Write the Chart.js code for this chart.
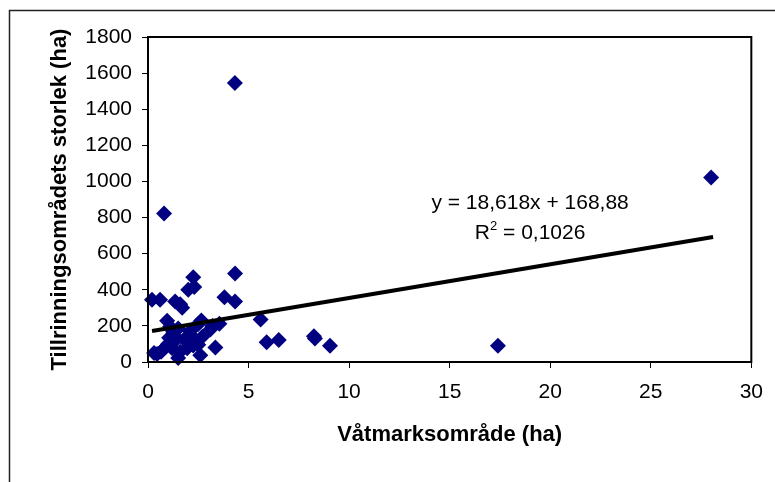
<!DOCTYPE html>
<html>
<head>
<meta charset="utf-8">
<script src="https://cdn.jsdelivr.net/npm/chart.js@4.4.1/dist/chart.umd.min.js"></script>
<style>
  html, body { margin: 0; padding: 0; background: #fff; }
  #wrap { width: 775px; height: 482px; position: relative; }
</style>
</head>
<body>
<div id="wrap"><canvas id="diagram"></canvas></div>
<script>
// Våtmarksområde (ha) mot tillrinningsområdets storlek (ha)
const vatmark = [4.32, 28.0, 0.8, 4.33, 2.25, 2.3, 2.0, 0.2, 0.6, 1.35, 1.6, 1.7, 3.8, 4.33,
  0.95, 1.1, 2.65, 5.6, 3.55, 3.2, 3.1, 2.5, 2.1, 1.5, 1.25, 1.05, 1.45, 1.8, 2.35, 2.7,
  2.5, 2.25, 1.95, 1.2, 0.85, 1.6, 0.65, 0.45, 1.5, 2.6, 3.35, 5.9, 6.5, 8.25, 8.3, 9.05,
  17.4, 1.0, 2.05, 0.3];
const tillrinning = [1545, 1022, 822, 490, 470, 415, 400, 345, 345, 335, 320, 300, 358, 335,
  228, 195, 230, 235, 212, 200, 180, 210, 170, 185, 168, 135, 130, 125, 125, 140,
  95, 92, 76, 76, 80, 57, 57, 44, 22, 38, 80, 110, 122, 142, 130, 90,
  90, 100, 108, 50];

// trendlinjens ändpunkter (avlästa)
const trendX = [0.2, 28.1];
const trendY = [172, 692];

const xTicks = [0, 5, 10, 15, 20, 25, 30];
const yTicks = [0, 200, 400, 600, 800, 1000, 1200, 1400, 1600, 1800];

const ekvation = 'y = 18,618x + 168,88';
const rKvadrat = '0,1026';

const punkter = vatmark.map((v, i) => ({ x: v, y: tillrinning[i] }));
const trend = trendX.map((v, i) => ({ x: v, y: trendY[i] }));

const typsnitt = 'Liberation Sans';

// ramar och ekvationstext
const ramPlugin = {
  id: 'ram',
  beforeDraw(chart) {
    const ctx = chart.ctx;
    ctx.save();
    ctx.strokeStyle = '#222';
    ctx.lineWidth = 1.5;
    ctx.beginPath();
    ctx.moveTo(9.5, 482);
    ctx.lineTo(9.5, 10.5);
    ctx.lineTo(775, 10.5);
    ctx.stroke();
    ctx.restore();
  },
  afterDraw(chart) {
    const ctx = chart.ctx;
    const a = chart.chartArea;
    const sx = chart.scales.x, sy = chart.scales.y;
    ctx.save();
    ctx.strokeStyle = '#000';
    ctx.lineWidth = 2;
    ctx.strokeRect(a.left, a.top, a.right - a.left, a.bottom - a.top);

    ctx.fillStyle = '#000';
    ctx.textBaseline = 'middle';
    ctx.textAlign = 'center';
    ctx.font = '21px "' + typsnitt + '"';
    const cx = sx.getPixelForValue(19);
    ctx.fillText(ekvation, cx, sy.getPixelForValue(880));

    // R² = ...
    const y2 = sy.getPixelForValue(715);
    const wR = ctx.measureText('R').width;
    const resten = ' = ' + rKvadrat;
    const wRest = ctx.measureText(resten).width;
    ctx.font = '13px "' + typsnitt + '"';
    const w2 = ctx.measureText('2').width;
    const total = wR + w2 + wRest;
    let x0 = cx - total / 2;
    ctx.textAlign = 'left';
    ctx.font = '21px "' + typsnitt + '"';
    ctx.fillText('R', x0, y2);
    ctx.font = '13px "' + typsnitt + '"';
    ctx.fillText('2', x0 + wR, y2 - 6);
    ctx.font = '21px "' + typsnitt + '"';
    ctx.fillText(resten, x0 + wR + w2, y2);
    ctx.restore();
  }
};

const diagram = new Chart(document.getElementById('diagram'), {
  type: 'scatter',
  data: {
    datasets: [
      {
        type: 'line',
        data: trend,
        borderColor: '#000',
        borderWidth: 4,
        pointRadius: 0,
        fill: false
      },
      {
        data: punkter,
        pointStyle: 'rectRot',
        pointRadius: 8,
        pointHoverRadius: 8,
        backgroundColor: '#000080',
        borderColor: '#000080',
        borderWidth: 0,
        clip: false
      }
    ]
  },
  options: {
    responsive: true,
    maintainAspectRatio: false,
    animation: false,
    layout: { padding: { left: 40, right: 16, top: 37, bottom: 0 } },
    plugins: {
      legend: { display: false },
      tooltip: { enabled: false }
    },
    scales: {
      x: {
        type: 'linear',
        min: 0,
        max: 30,
        afterBuildTicks: s => { s.ticks = xTicks.map(v => ({ value: v })); },
        afterFit: s => { s.height = 120; },
        grid: { drawOnChartArea: false, drawTicks: true, tickLength: 6, color: '#000' },
        border: { display: true, color: '#000', width: 2 },
        ticks: {
          color: '#000', padding: 12, maxRotation: 0,
          font: { family: typsnitt, size: 21 },
          callback: v => String(v)
        },
        title: {
          display: true,
          text: 'Våtmarksområde (ha)',
          color: '#000',
          padding: { top: 0, bottom: 34 },
          font: { family: typsnitt, size: 22, weight: 'bold' }
        }
      },
      y: {
        type: 'linear',
        min: 0,
        max: 1800,
        afterBuildTicks: s => { s.ticks = yTicks.map(v => ({ value: v })); },
        afterFit: s => { s.width = 108; },
        grid: { drawOnChartArea: false, drawTicks: true, tickLength: 6, color: '#000' },
        border: { display: true, color: '#000', width: 2 },
        ticks: {
          color: '#000', padding: 10,
          font: { family: typsnitt, size: 21 },
          callback: v => String(v)
        },
        title: {
          display: true,
          text: 'Tillrinningsområdets storlek (ha)',
          color: '#000',
          padding: { top: 7, bottom: 0 },
          font: { family: typsnitt, size: 22, weight: 'bold' }
        }
      }
    }
  },
  plugins: [ramPlugin]
});
</script>
</body>
</html>
